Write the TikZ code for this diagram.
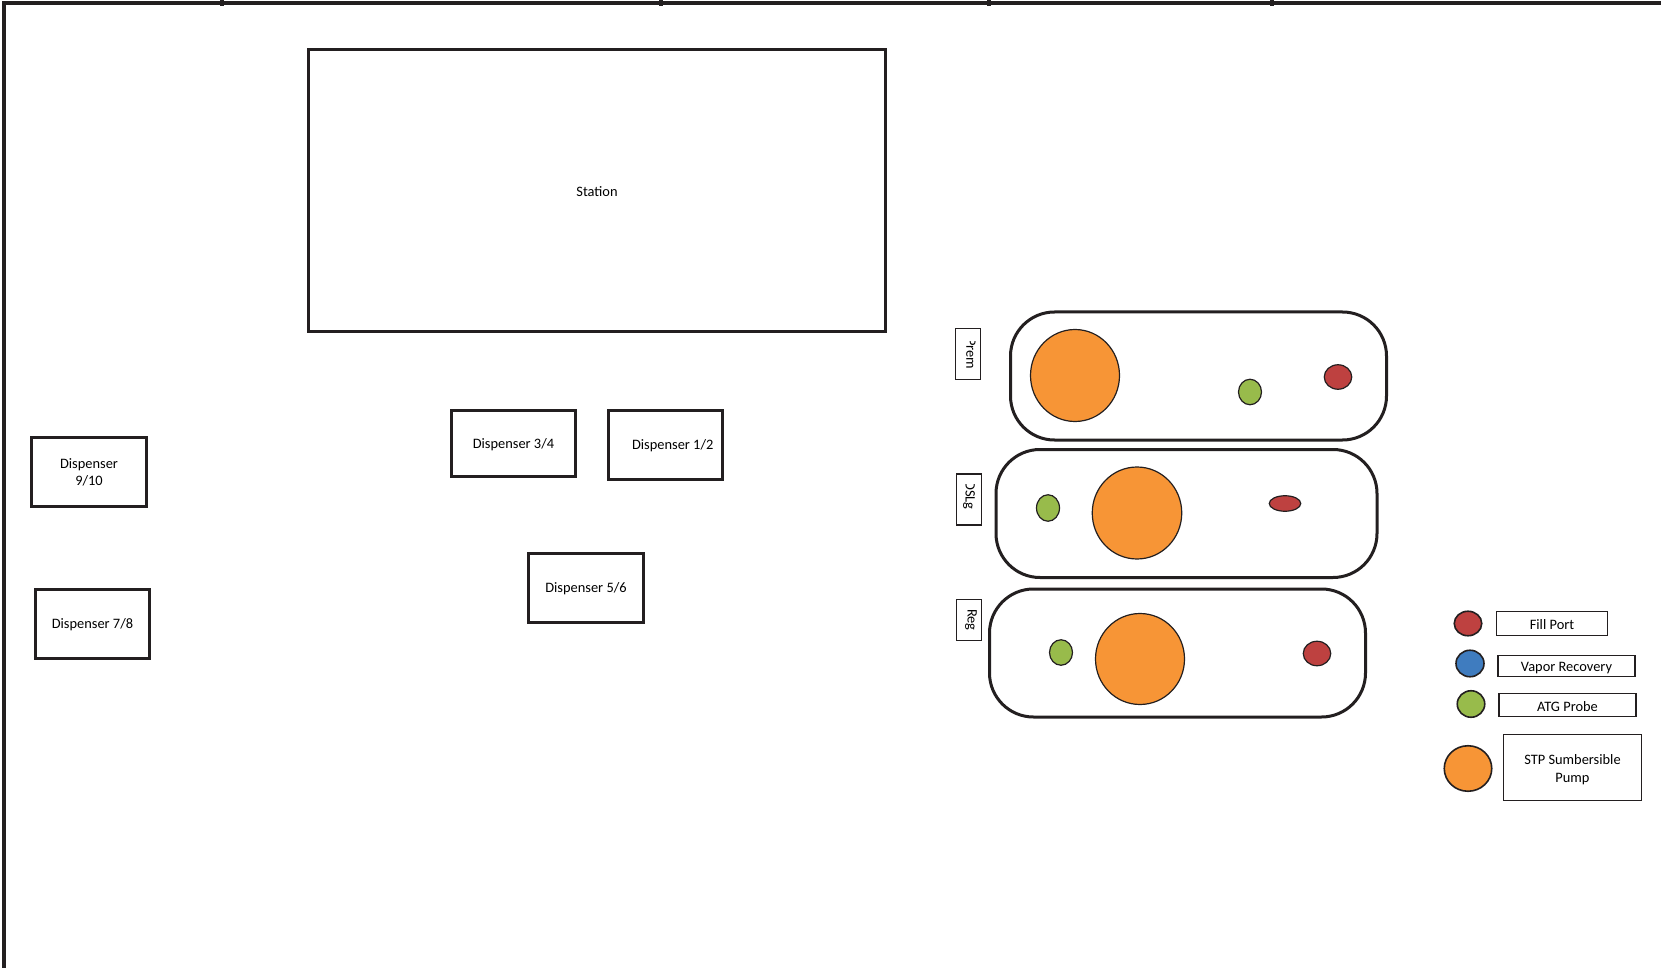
\documentclass[tikz,border=0pt]{standalone}
\usepackage{fontspec}
\setmainfont{Carlito}
\usetikzlibrary{shapes.geometric}
\definecolor{ink}{HTML}{231F20}
\definecolor{fillred}{HTML}{BE4140}
\definecolor{vaporblue}{HTML}{3F7CBF}
\definecolor{probegreen}{HTML}{98BB4B}
\definecolor{pumporange}{HTML}{F79536}
\tikzset{
  dims/.style 2 args={minimum width=#1*0.5pt, minimum height=#2*0.5pt, inner sep=0pt, outer sep=0pt, text depth=0.4pt},
  heavybox/.style={line width=1.5pt, shape=rectangle, draw=ink},
  thinbox/.style={line width=0.6pt, shape=rectangle, draw=ink, align=center},
  tankbox/.style={line width=1.5pt, shape=rectangle, draw=ink, rounded corners=22pt},
  port/.style={line width=0.6pt, shape=ellipse, draw=ink},
}
\begin{document}
\begin{tikzpicture}[x=0.5pt, y=-0.5pt, font=\fontsize{7.2}{8.7}\selectfont]
\useasboundingbox (0,0) rectangle (1661,968);
% site edge
\draw[line width=2pt, draw=ink] (4,968) -- (4,3) -- (1661,3);
\foreach \tickx in {222,661,989,1272}
  \fill[ink] (\tickx-2,0) rectangle (\tickx+2,6);
% building and dispensers
\node[heavybox, dims={577}{282}, label={[yshift=-0.4pt]center:Station}](station) at (597,191) {};
\node[heavybox, dims={124}{65}](disp34) at (513.5,443.5) {Dispenser 3/4};
\node[heavybox, dims={114}{68}, label={[xshift=3.6pt, yshift=-0.5pt]center:Dispenser 1/2}](disp12) at (665.5,445) {};
\node[heavybox, dims={115}{69}](disp56) at (586,588) {Dispenser 5/6};
\node[heavybox, dims={115}{69}, label={[yshift=-0.5pt, align=center]center:Dispenser\\9/10}](disp910) at (89,471.5) {};
\node[heavybox, dims={114}{69}](disp78) at (92.5,624) {Dispenser 7/8};
% tanks
\node[tankbox, dims={376}{128}](tankprem) at (1198.5,376) {};
\node[port, fill=pumporange, dims={89}{92}](pumpprem) at (1075,375.5) {};
\node[port, fill=probegreen, dims={23}{25.5}](probeprem) at (1250,392) {};
\node[port, fill=fillred, dims={27.5}{24.5}](fillprem) at (1338,377) {};
\node[tankbox, dims={381}{128}](tankdsl) at (1186.5,513.5) {};
\node[port, fill=pumporange, dims={89.5}{92}](pumpdsl) at (1137,513) {};
\node[port, fill=probegreen, dims={23}{26.5}](probedsl) at (1048,508) {};
\node[port, fill=fillred, dims={31.5}{15.5}](filldsl) at (1285,503.5) {};
\node[tankbox, dims={376}{128}](tankreg) at (1177.5,653) {};
\node[port, fill=pumporange, dims={89}{91}](pumpreg) at (1140,659) {};
\node[port, fill=probegreen, dims={23}{25.5}](probereg) at (1061,652.5) {};
\node[port, fill=fillred, dims={27.5}{24.5}](fillreg) at (1317,653.5) {};
% tank tags, two of them cut off by their box
\node[thinbox, dims={25}{51}](tagprem) at (968,354) {};
\begin{scope}
\clip (950,342) rectangle (990,367.5);
\node[rotate=-90](textprem) at (971,354) {Prem};
\end{scope}
\node[thinbox, dims={25}{51}](tagdsl) at (969,499.5) {};
\begin{scope}
\clip (950,484.5) rectangle (990,520);
\node[rotate=-90](textdsl) at (969,495.5) {DSLg};
\end{scope}
\node[thinbox, dims={25}{41}](tagreg) at (969,620) {};
\node[rotate=-90](textreg) at (971,620) {Reg};
% legend
\node[port, line width=0.8pt, fill=fillred, dims={27.5}{24.5}](keyfill) at (1468,623.5) {};
\node[thinbox, dims={111}{24}, label={[yshift=-0.4pt]center:Fill Port}](labelfill) at (1552,623.5) {};
\node[port, line width=0.8pt, fill=vaporblue, dims={28}{26.5}](keyvapor) at (1470,663.5) {};
\node[thinbox, dims={137}{21}, label={[yshift=-1pt]center:Vapor Recovery}](labelvapor) at (1566.5,666) {};
\node[port, line width=0.8pt, fill=probegreen, dims={27.5}{26.5}](keyprobe) at (1471,704) {};
\node[thinbox, dims={137}{23}, label={[yshift=-0.6pt]center:ATG Probe}](labelprobe) at (1567.5,705) {};
\node[port, line width=0.8pt, fill=pumporange, dims={47.5}{45.5}](keypump) at (1468,768.5) {};
\node[thinbox, dims={138}{66}, label={[yshift=-1pt, align=center]center:STP Sumbersible\\Pump}](labelpump) at (1572.5,767.5) {};
\end{tikzpicture}
\end{document}
